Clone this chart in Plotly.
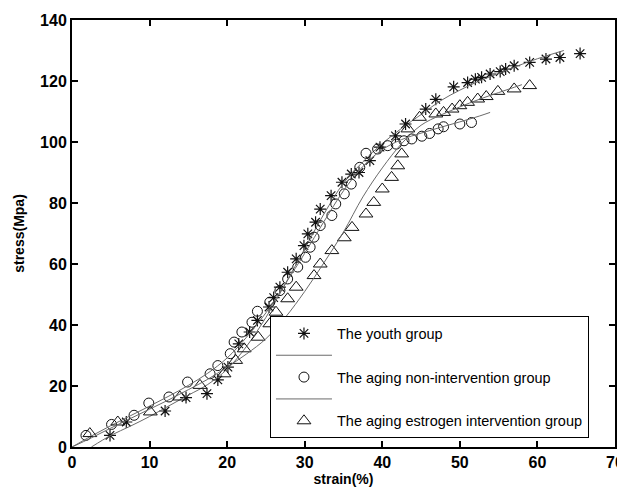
import plotly.graph_objects as go

# ---- data ----
youth_x = [4.9, 7.0, 12.0, 14.7, 17.4, 18.8, 20.1, 21.5, 22.9, 23.9, 25.4, 26.0, 26.8, 27.8, 28.9,
           29.9, 30.4, 31.4, 32.0, 33.4, 34.8, 36.0, 37.0, 38.4, 39.7, 41.7, 43.0, 45.6, 46.9,
           49.2, 51.0, 52.0, 52.8, 53.9, 55.2, 55.9, 57.0, 59.0, 61.1, 62.9, 65.5]
youth_y = [3.8, 8.2, 11.8, 16.2, 17.5, 22.0, 26.2, 33.8, 37.7, 41.5, 45.9, 49.0, 52.4, 57.3, 61.7,
           66.0, 69.9, 73.7, 78.0, 82.4, 86.8, 89.5, 90.0, 93.9, 98.3, 102.0, 105.9, 110.8, 114.0,
           118.1, 119.5, 120.6, 121.2, 122.3, 123.1, 123.9, 125.0, 126.1, 127.2, 127.7, 129.0]

aging_x = [1.8, 5.1, 8.0, 9.9, 12.5, 14.9, 17.8, 18.8, 20.4, 20.9, 21.9, 23.2, 23.9, 25.5, 26.8,
           27.8, 29.1, 30.1, 30.7, 31.2, 32.0, 33.5, 34.0, 35.1, 36.0, 37.1, 37.9, 39.4, 40.7,
           41.8, 42.8, 43.8, 45.1, 46.1, 47.2, 47.9, 50.0, 51.5]
aging_y = [3.8, 7.4, 10.4, 14.4, 16.4, 21.3, 24.0, 26.7, 30.6, 34.4, 37.7, 40.9, 44.5, 47.5, 51.3,
           55.1, 59.0, 62.2, 65.5, 68.8, 72.6, 75.9, 79.7, 83.0, 86.2, 91.7, 96.3, 97.7, 98.8,
           99.3, 100.4, 101.0, 101.9, 102.8, 104.3, 105.0, 105.9, 106.4]

estro_x = [2.3, 5.9, 10.1, 13.9, 16.5, 19.6, 21.1, 22.2, 24.0, 25.5, 26.3, 27.8, 28.9, 31.2, 32.0,
           33.5, 35.1, 36.1, 37.9, 38.9, 40.0, 41.2, 42.0, 42.5, 43.3, 44.8, 46.9, 47.9, 49.0,
           50.0, 51.0, 52.3, 53.4, 54.9, 57.0, 59.0]
estro_y = [4.4, 8.2, 11.5, 16.4, 20.2, 24.0, 28.4, 32.2, 36.0, 40.4, 44.2, 48.6, 52.4, 56.2, 60.0,
           64.4, 68.6, 72.0, 76.4, 80.2, 84.6, 88.4, 92.2, 96.1, 104.3, 108.1, 109.2, 109.7, 110.8,
           111.9, 113.0, 114.1, 114.9, 116.6, 117.4, 118.5]

# fitted curves
youth_fit_x = [2.5, 5, 7.5, 10, 12.5, 15, 17.5, 20, 22.5, 25, 27.5, 30, 32.5, 35, 37.5, 40,
               42.5, 45, 47.5, 50, 52.5, 55, 57.5, 60, 63.4]
youth_fit_y = [0, 3.8, 6.8, 10, 13.5, 17, 20.5, 25.5, 33, 42.5, 53.5, 65, 76.5, 86.5, 93.5, 99.5,
               104.5, 109, 113.5, 117, 120, 122.5, 125, 127.3, 130]

aging_fit_x = [0, 2.5, 5, 7.5, 10, 12.5, 15, 17.5, 20, 22.5, 25, 27.5, 30, 32.5, 35, 37.5, 40,
               42.5, 45, 47.5, 50, 52.5, 53.9]
aging_fit_y = [0, 3.6, 7.0, 10.2, 13.4, 16.7, 20.2, 24.2, 29.2, 36, 44, 53.5, 63.5, 74, 84, 92,
               97.5, 100.8, 102.9, 104.8, 106.6, 108.5, 109.7]

estro_fit_x = [0, 2.5, 5, 7.5, 10, 12.5, 15, 17.5, 20, 22.5, 25, 27.5, 30, 32.5, 35, 37.5, 40,
               42.5, 45, 47.5, 50, 52.5, 55, 58]
estro_fit_y = [0, 3.0, 6.2, 9.3, 12.4, 15.5, 18.8, 22.2, 26.2, 30.5, 35.5, 42.5, 51, 60.5, 70.5,
               82, 91.5, 99.5, 105.5, 108.8, 111.5, 114, 116.2, 118.8]

x_ticks = [0, 10, 20, 30, 40, 50, 60, 70]
y_ticks = [0, 20, 40, 60, 80, 100, 120, 140]

names = ["The youth group", "The aging non-intervention group",
         "The aging estrogen intervention group"]

MARK = "#111111"
LINE = "#6a6a6a"

fig = go.Figure()
fig.add_trace(go.Scatter(x=youth_x, y=youth_y, mode="markers", name=names[0],
                         marker=dict(symbol="asterisk-open", size=10, color=MARK,
                                     line=dict(color=MARK, width=1.2))))
fig.add_trace(go.Scatter(x=youth_fit_x, y=youth_fit_y, mode="lines", name=" ",
                         line=dict(color=LINE, width=1, shape="spline")))
fig.add_trace(go.Scatter(x=aging_x, y=aging_y, mode="markers", name=names[1],
                         marker=dict(symbol="circle-open", size=10, color=MARK,
                                     line=dict(color=MARK, width=1))))
fig.add_trace(go.Scatter(x=aging_fit_x, y=aging_fit_y, mode="lines", name="  ",
                         line=dict(color=LINE, width=1, shape="spline")))
fig.add_trace(go.Scatter(x=estro_x, y=estro_y, mode="markers", name=names[2],
                         marker=dict(symbol="triangle-up-open", size=12, color=MARK,
                                     line=dict(color=MARK, width=1))))
fig.add_trace(go.Scatter(x=estro_fit_x, y=estro_fit_y, mode="lines", name="   ",
                         showlegend=False,
                         line=dict(color=LINE, width=1, shape="spline")))

tickfont = dict(family="Liberation Sans, Arial", size=16, color="black")
titlefont = dict(family="Liberation Sans, Arial", size=14, color="black")

# the page body adds an 8px margin, so the figure is sized 8px smaller
fig.update_layout(
    width=617, height=483,
    margin=dict(l=64, r=10, t=12, b=44),
    paper_bgcolor="white", plot_bgcolor="white",
    font=dict(family="Liberation Sans, Arial", color="black"),
    xaxis=dict(range=[0, 70], tickvals=x_ticks, ticktext=[f"<b>{v}</b>" for v in x_ticks],
               ticks="inside", ticklen=6, tickwidth=1.5, tickcolor="black",
               showline=True, linecolor="black", linewidth=2, mirror="ticks",
               showgrid=False, zeroline=False, tickfont=tickfont, automargin=False,
               title=dict(text="<b>strain(%)</b>", font=titlefont, standoff=0)),
    yaxis=dict(range=[0, 140], tickvals=y_ticks, ticktext=[f"<b>{v}</b>" for v in y_ticks],
               ticks="inside", ticklen=6, tickwidth=1.5, tickcolor="black",
               showline=True, linecolor="black", linewidth=2, mirror="ticks",
               showgrid=False, zeroline=False, tickfont=tickfont, automargin=False,
               title=dict(text="<b>stress(Mpa)</b>", font=titlefont, standoff=12)),
    legend=dict(x=0.3646, y=0.02, xanchor="left", yanchor="bottom",
                bgcolor="white", bordercolor="black", borderwidth=1,
                font=dict(family="Liberation Sans, Arial", size=14.5, color="black"),
                tracegroupgap=0, itemwidth=56),
    showlegend=True,
)

fig.write_html("out.html")
